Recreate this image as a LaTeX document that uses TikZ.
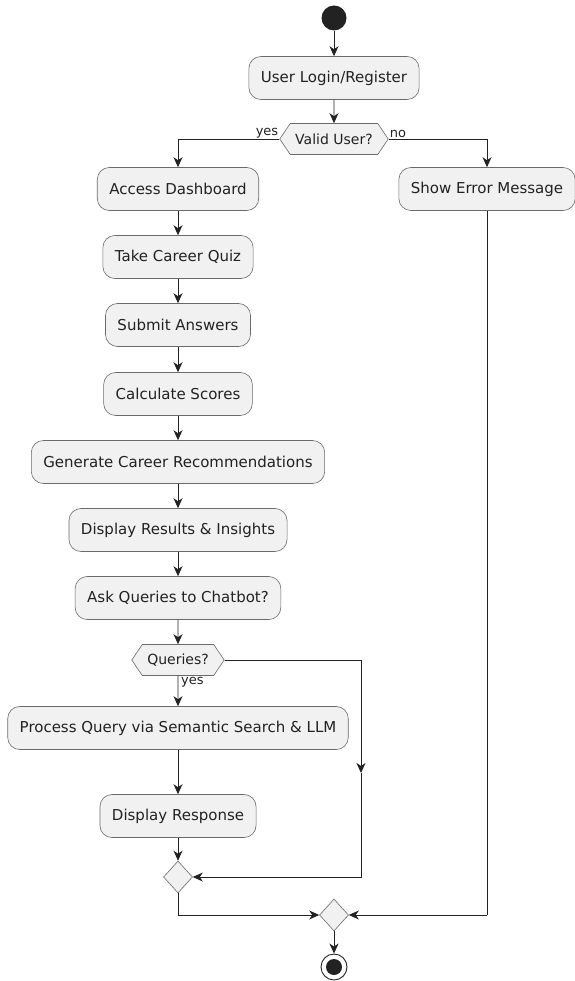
\documentclass[tikz,border=0pt]{standalone}
\usepackage{fontspec}
\setmainfont{DejaVu Sans}
\usetikzlibrary{arrows.meta,shapes.symbols,shapes.geometric}
\definecolor{boxfill}{HTML}{F1F1F1}
\definecolor{boxline}{HTML}{6A6A6A}
\definecolor{ink}{HTML}{222222}
\tikzset{
  act/.style={rectangle, rounded corners=12pt, draw=boxline, fill=boxfill, line width=0.6pt,
    minimum height=43pt, inner xsep=12pt, font=\fontsize{15}{17}\selectfont, text=ink},
  hexa/.style={signal, signal to=west and east, signal pointer angle=112, draw=boxline, fill=boxfill,
    line width=0.6pt, minimum height=31pt, inner xsep=5pt, font=\fontsize{14}{16}\selectfont, text=ink},
  mergebox/.style={diamond, draw=boxline, fill=boxfill, line width=0.6pt, minimum width=29pt, minimum height=32pt, inner sep=0pt},
  flow/.style={draw=ink, line width=0.9pt, -{Stealth[length=10pt,width=9pt,inset=3pt]}},
  plain/.style={draw=ink, line width=0.9pt},
  lbl/.style={font=\fontsize{13}{14}\selectfont, text=ink, inner sep=1pt}
}
\begin{document}
\begin{tikzpicture}[x=1pt,y=-1pt]
\useasboundingbox[fill=white] (0,0) rectangle (574,981);
\node[circle, fill=ink, minimum size=25pt, inner sep=0pt] (start) at (334,18) {};
\node[act] (login) at (334,78) {User Login/Register};
\node[hexa] (valid) at (334,139) {Valid User?};
\node[act] (access) at (178,189) {Access Dashboard};
\node[act] (error) at (487,189) {Show Error Message};
\node[act] (quiz) at (178,257) {Take Career Quiz};
\node[act] (submit) at (178,325) {Submit Answers};
\node[act] (calc) at (178,394) {Calculate Scores};
\node[act] (gen) at (178,462) {Generate Career Recommendations};
\node[act] (disp) at (178,530) {Display Results \& Insights};
\node[act] (ask) at (178,598) {Ask Queries to Chatbot?};
\node[hexa] (queries) at (178,660) {Queries?};
\node[act] (process) at (178,728) {Process Query via Semantic Search \& LLM};
\node[act] (resp) at (178,816) {Display Response};
\node[mergebox] (m1) at (178,877) {};
\node[mergebox] (m2) at (334,915) {};
\node[circle, draw=ink, fill=white, line width=0.9pt, minimum size=26pt, inner sep=0pt] (endo) at (334,967) {};
\node[circle, fill=ink, minimum size=16pt, inner sep=0pt] (endi) at (334,967) {};

\coordinate (yesc) at (valid.west -| access.north);
\coordinate (noc) at (valid.east -| error.north);
\coordinate (loopc) at (361,773);
\coordinate (m1c) at (m2.west -| m1.south);
\coordinate (errc) at (m2.east -| error.south);

\draw[flow] (start) -- (login);
\draw[flow] (login) -- (valid);
\draw[plain] (valid.west) -- (yesc);
\draw[flow] (yesc) -- (access);
\draw[plain] (valid.east) -- (noc);
\draw[flow] (noc) -- (error);
\draw[flow] (access) -- (quiz);
\draw[flow] (quiz) -- (submit);
\draw[flow] (submit) -- (calc);
\draw[flow] (calc) -- (gen);
\draw[flow] (gen) -- (disp);
\draw[flow] (disp) -- (ask);
\draw[flow] (ask) -- (queries);
\draw[flow] (queries) -- (process);
\draw[flow] (process) -- (resp);
\draw[flow] (resp) -- (m1);
\draw[flow] (queries.east) -| (loopc);
\draw[flow] (loopc) |- (m1.east);
\draw[plain] (m1.south) -- (m1c);
\draw[flow] (m1c) -- (m2.west);
\draw[plain] (error.south) -- (errc);
\draw[flow] (errc) -- (m2.east);
\draw[flow] (m2) -- (endo);

\node[lbl, anchor=south east] (yeslbl) at (valid.west) {yes};
\node[lbl, anchor=south west] (nolbl) at (valid.east) {no};
\node[lbl, anchor=north west] (qyes) at ([xshift=2pt]queries.south) {yes};
\end{tikzpicture}
\end{document}
